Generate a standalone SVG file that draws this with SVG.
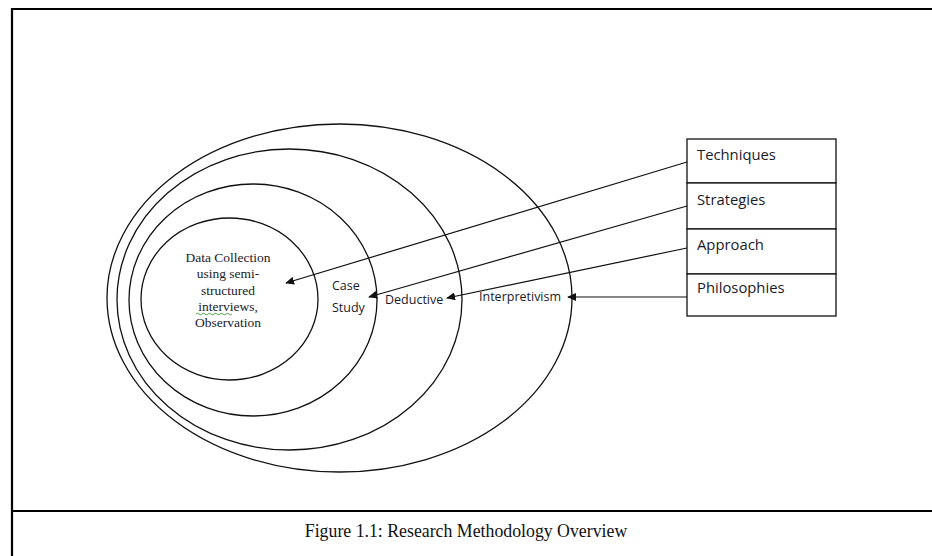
<svg xmlns="http://www.w3.org/2000/svg" width="932" height="556" viewBox="0 0 932 556">
  <style>
    .frame { stroke: #000; stroke-width: 2.2; fill: none; }
    .ring { stroke: #111; stroke-width: 1.3; fill: none; }
    .box { stroke: #111; stroke-width: 1.3; fill: #fff; }
    .link { stroke: #111; stroke-width: 1.2; fill: none; marker-end: url(#head); }
    .sans { font-family: "Open Sans", "Liberation Sans", sans-serif; font-size: 12.5px; fill: #1a1a2a; }
    .boxlabel { font-family: "Open Sans", "Liberation Sans", sans-serif; font-size: 14.8px; fill: #1a1a2a; }
    .serif { font-family: "Liberation Serif", "DejaVu Serif", serif; font-size: 13.5px; fill: #1a1a2a; text-anchor: middle; }
    .caption { font-family: "Liberation Serif", "Times New Roman", serif; font-size: 17.8px; fill: #111; text-anchor: middle; }
  </style>
  <defs>
    <marker id="head" viewBox="0 0 10 10" refX="9" refY="5" markerWidth="9" markerHeight="8" markerUnits="userSpaceOnUse" orient="auto" preserveAspectRatio="none">
      <path d="M0,0 L10,5 L0,10 z" fill="#111"/>
    </marker>
  </defs>
  <rect width="932" height="556" fill="#fff"/>

  <!-- page frame and caption rule -->
  <g id="frame">
    <path class="frame" d="M12,556 V9 H932"/>
    <path class="frame" d="M12,511 H932"/>
  </g>

  <!-- nested layers -->
  <g id="layer-philosophies">
    <ellipse class="ring" cx="339.5" cy="298" rx="232.5" ry="174"/>
  </g>
  <g id="layer-approach">
    <ellipse class="ring" cx="289.5" cy="299.5" rx="172.5" ry="150.5"/>
  </g>
  <g id="layer-strategies">
    <ellipse class="ring" cx="253" cy="300" rx="124" ry="116"/>
  </g>
  <g id="layer-techniques">
    <ellipse class="ring" cx="229.5" cy="299" rx="88.5" ry="81"/>
    <text class="serif" x="228" y="262">Data Collection</text>
    <text class="serif" x="228" y="278">using semi-</text>
    <text class="serif" x="228" y="295">structured</text>
    <text class="serif" x="228" y="311">interviews,</text>
    <text class="serif" x="228" y="327">Observation</text>
    <path d="M196,314 q1.5,-1.5 3,0 t3,0 t3,0 t3,0 t3,0 t3,0 t3,0 t3,0 t3,0 t3,0 t3,0 t3,0" stroke="#3a9a3a" stroke-width="0.9" fill="none"/>
  </g>

  <!-- layer labels -->
  <g id="labels">
    <text class="sans" x="332" y="290">Case</text>
    <text class="sans" x="332" y="312">Study</text>
    <text class="sans" x="385" y="304">Deductive</text>
    <text class="sans" x="479" y="301">Interpretivism</text>
  </g>

  <!-- legend stack -->
  <g id="legend">
    <rect class="box" x="687" y="139" width="149" height="44"/>
    <rect class="box" x="687" y="183" width="149" height="46"/>
    <rect class="box" x="687" y="229" width="149" height="45"/>
    <rect class="box" x="687" y="274" width="149" height="42"/>
    <text class="boxlabel" x="697" y="160">Techniques</text>
    <text class="boxlabel" x="697" y="205">Strategies</text>
    <text class="boxlabel" x="697" y="250">Approach</text>
    <text class="boxlabel" x="697" y="293">Philosophies</text>
  </g>

  <!-- connectors -->
  <g id="connectors">
    <line class="link" x1="687" y1="162" x2="286" y2="283"/>
    <line class="link" x1="687" y1="206" x2="369" y2="297"/>
    <line class="link" x1="687" y1="248" x2="447" y2="298"/>
    <line class="link" x1="687" y1="297" x2="568" y2="297"/>
  </g>

  <text class="caption" x="466" y="537">Figure 1.1: Research Methodology Overview</text>
</svg>
